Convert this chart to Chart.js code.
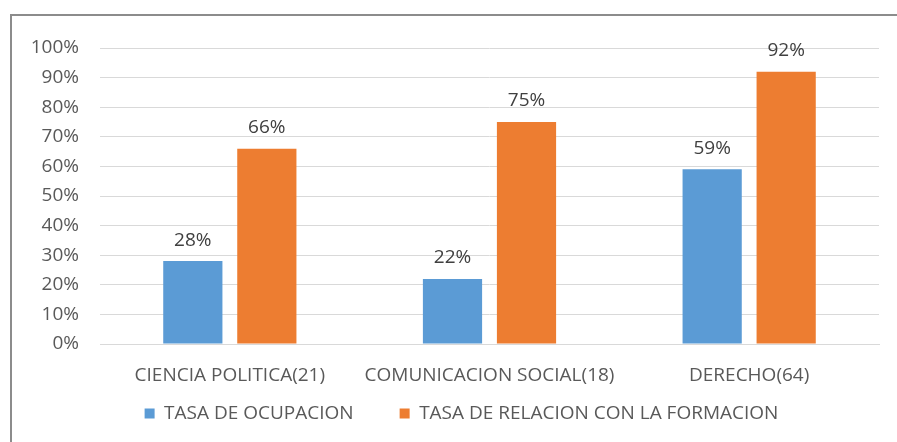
<!DOCTYPE html>
<html>
<head>
<meta charset="utf-8">
<script src="https://cdn.jsdelivr.net/npm/chart.js@4/dist/chart.umd.min.js"></script>
<style>
  html, body { margin: 0; padding: 0; background: #fff; overflow: hidden; }
  #wrap { position: relative; width: 897px; height: 442px; }
  #frame { position: absolute; left: 10px; top: 14px; width: 900px; height: 440px;
           border-left: 2px solid #8c8c8c; border-top: 2px solid #8c8c8c; box-sizing: border-box; }
  canvas { position: absolute; left: 0; top: 0; }
</style>
</head>
<body>
<div id="wrap">
  <div id="frame"></div>
  <canvas id="chart" width="897" height="442"></canvas>
</div>
<script>
var categories = ['CIENCIA POLITICA(21)', 'COMUNICACION SOCIAL(18)', 'DERECHO(64)'];
var seriesNames = ['TASA DE OCUPACION', 'TASA DE RELACION CON LA FORMACION'];
var ocupacion = [0.28, 0.22, 0.59];
var relacion = [0.66, 0.75, 0.92];
var colors = ['#5b9bd5', '#ed7d31'];

var fontFamily = '"Open Sans", "Liberation Sans", sans-serif';
var textColor = '#595959';

// value labels above each bar
var barLabels = {
    id: 'barLabels',
    afterDatasetsDraw: function (chart) {
        var ctx = chart.ctx;
        ctx.save();
        ctx.font = '19px ' + fontFamily;
        ctx.fillStyle = '#404040';
        ctx.textAlign = 'center';
        ctx.textBaseline = 'middle';
        chart.data.datasets.forEach(function (ds, i) {
            chart.getDatasetMeta(i).data.forEach(function (bar, j) {
                ctx.fillText(Math.round(ds.data[j] * 100) + '%', bar.x, bar.y - 21);
            });
        });
        ctx.restore();
    }
};

// wide gap between legend items but keep the legend close to the axis
var legendTweak = {
    id: 'legendTweak',
    beforeLayout: function (chart) {
        var lg = chart.legend;
        if (lg && !lg._tweaked) {
            var fit = lg.fit;
            lg.fit = function () {
                fit.call(this);
                this.height = 58;
            };
            lg._tweaked = true;
        }
    },
    afterLayout: function (chart) {
        var lg = chart.legend;
        lg.top -= 26;
        lg.bottom = chart.height;
        lg.left += 22;
        lg.right += 22;
    }
};

var ctx = document.getElementById('chart').getContext('2d');
new Chart(ctx, {
    type: 'bar',
    data: {
        labels: categories,
        datasets: [{
            label: seriesNames[0],
            data: ocupacion,
            backgroundColor: colors[0],
            categoryPercentage: 0.57,
            barPercentage: 0.8
        }, {
            label: seriesNames[1],
            data: relacion,
            backgroundColor: colors[1],
            categoryPercentage: 0.57,
            barPercentage: 0.8
        }]
    },
    options: {
        responsive: false,
        animation: false,
        layout: { padding: { top: 48, right: 18, bottom: 0, left: 0 } },
        plugins: {
            legend: {
                position: 'bottom',
                labels: {
                    boxWidth: 10,
                    boxHeight: 10,
                    padding: 46,
                    color: textColor,
                    font: { family: fontFamily, size: 19 }
                }
            },
            tooltip: { enabled: false }
        },
        scales: {
            x: {
                grid: { display: false },
                border: { color: '#d9d9d9' },
                ticks: { color: textColor, font: { family: fontFamily, size: 19 }, padding: 12 },
                afterFit: function (scale) { scale.height = 40; }
            },
            y: {
                min: 0,
                max: 1,
                ticks: {
                    stepSize: 0.1,
                    color: textColor,
                    padding: 21,
                    font: { family: fontFamily, size: 19 },
                    callback: function (v) { return Math.round(v * 100) + '%'; }
                },
                grid: { color: '#d9d9d9', drawTicks: false },
                border: { display: false },
                afterFit: function (scale) { scale.width = 100; }
            }
        }
    },
    plugins: [barLabels, legendTweak]
});
</script>
</body>
</html>
